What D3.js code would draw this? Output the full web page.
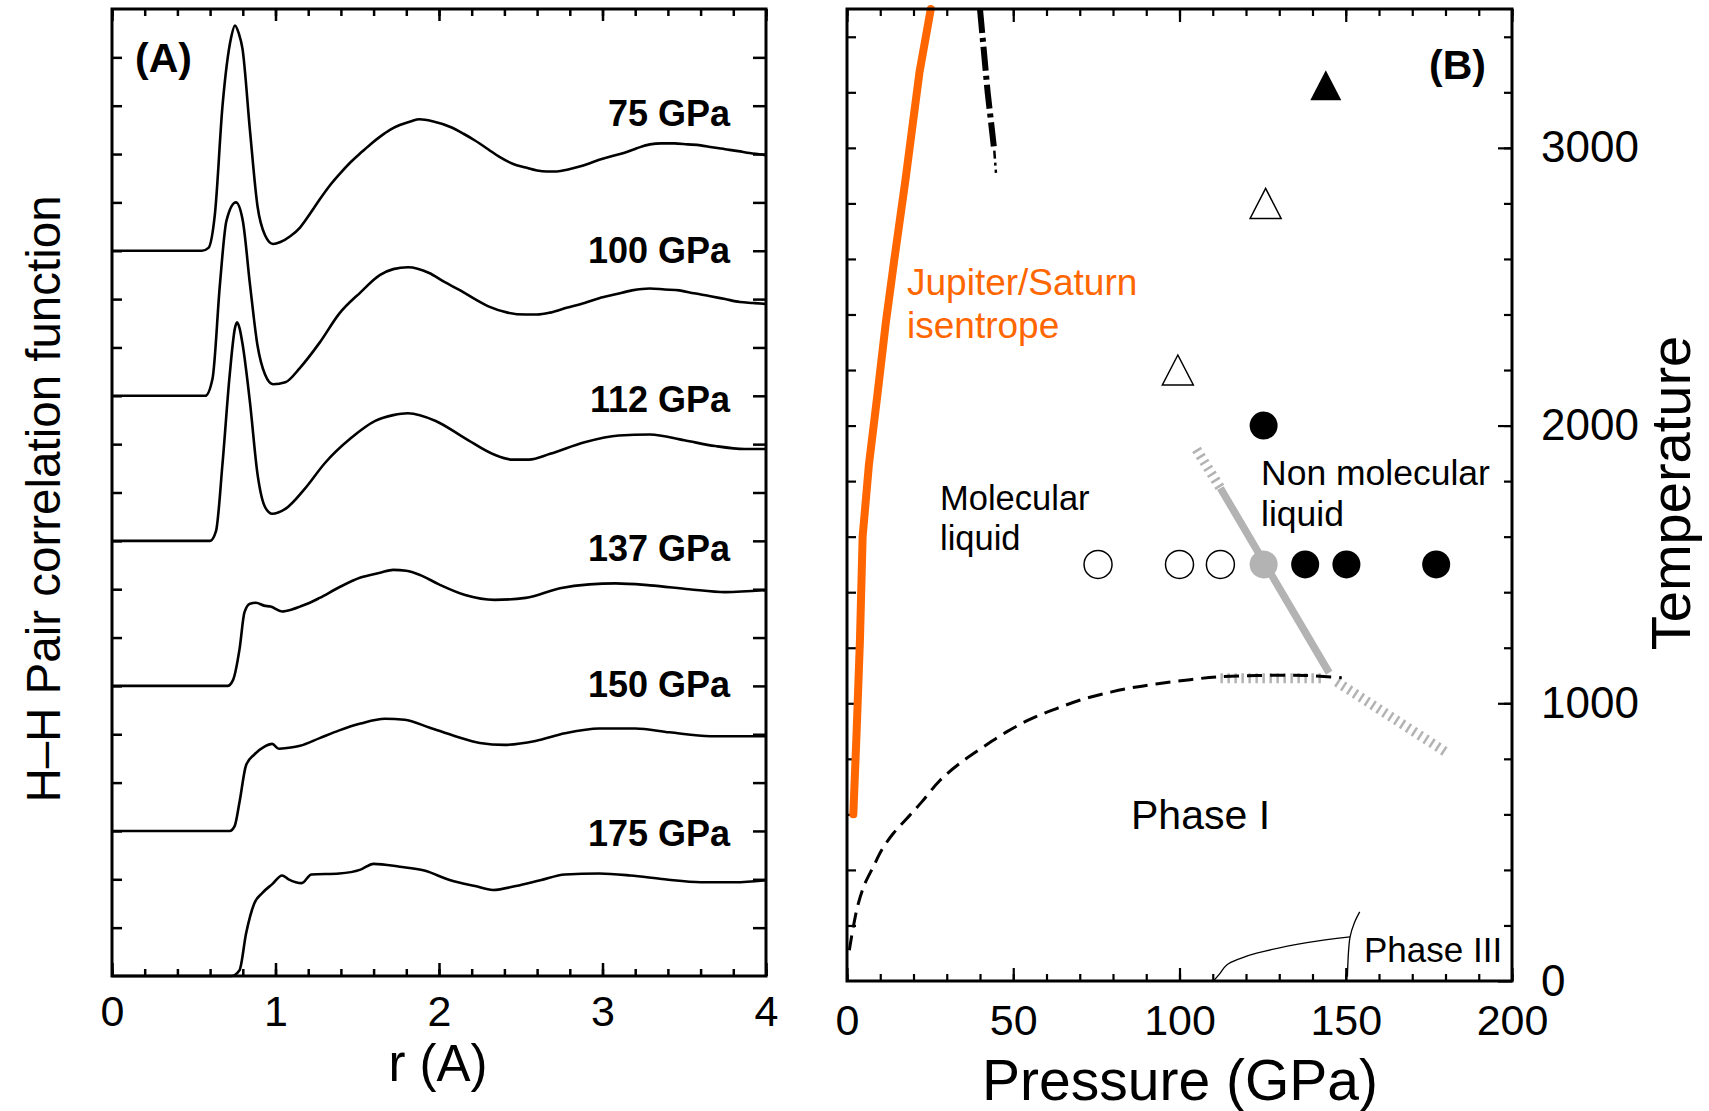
<!DOCTYPE html>
<html>
<head>
<meta charset="utf-8">
<script src="https://cdn.jsdelivr.net/npm/d3@7"></script>
<style>
  html, body { margin: 0; padding: 0; background: #ffffff; }
  svg { display: block; }
  text { font-family: "Liberation Sans", Arial, Helvetica, sans-serif; }
</style>
</head>
<body>
<script>
// ---------------- DATA ----------------
// Panel A: H-H pair correlation function g(r), curves offset vertically
const curveLabels = ["75 GPa", "100 GPa", "112 GPa", "137 GPa", "150 GPa", "175 GPa"];
const curveOffsets = [7.5, 6, 4.5, 3, 1.5, 0];
const g75 = [[0,0],[0.55,0],[0.59,0.03],[0.63,0.39],[0.676,1.5],[0.728,2.2],[0.752,2.33],[0.775,2.25],[0.798,2.09],[0.844,1.24],[0.89,0.46],[0.936,0.16],[0.985,0.07],[1.03,0.09],[1.09,0.15],[1.15,0.24],[1.21,0.38],[1.27,0.53],[1.33,0.67],[1.39,0.79],[1.45,0.9],[1.52,1.01],[1.58,1.1],[1.64,1.18],[1.70,1.25],[1.76,1.30],[1.83,1.34],[1.88,1.36],[1.96,1.34],[2.07,1.28],[2.15,1.21],[2.22,1.14],[2.30,1.05],[2.37,0.97],[2.45,0.9],[2.53,0.86],[2.60,0.83],[2.66,0.82],[2.72,0.82],[2.79,0.84],[2.86,0.87],[2.93,0.91],[2.98,0.94],[3.06,0.98],[3.13,1.01],[3.21,1.06],[3.29,1.1],[3.36,1.11],[3.44,1.11],[3.52,1.10],[3.6,1.09],[3.67,1.07],[3.75,1.05],[3.83,1.03],[3.90,1.01],[4.0,0.99]];
const g100 = [[0,0],[0.57,0],[0.615,0.18],[0.66,1.15],[0.70,1.81],[0.758,2.0],[0.80,1.81],[0.844,1.15],[0.89,0.52],[0.936,0.22],[0.985,0.12],[1.06,0.14],[1.15,0.29],[1.27,0.55],[1.39,0.85],[1.52,1.07],[1.64,1.25],[1.72,1.31],[1.81,1.33],[1.94,1.27],[2.03,1.18],[2.13,1.09],[2.22,1.0],[2.31,0.92],[2.42,0.86],[2.53,0.84],[2.6,0.84],[2.68,0.86],[2.78,0.91],[2.89,0.96],[2.98,1.01],[3.08,1.05],[3.18,1.09],[3.29,1.11],[3.38,1.1],[3.47,1.09],[3.56,1.06],[3.66,1.03],[3.75,1.0],[3.84,0.97],[3.92,0.96],[4.0,0.95]];
const g112 = [[0,0],[0.60,0],[0.636,0.1],[0.676,0.8],[0.72,1.72],[0.752,2.2],[0.765,2.26],[0.78,2.2],[0.798,2.04],[0.844,1.43],[0.89,0.69],[0.936,0.35],[0.98,0.28],[1.06,0.33],[1.18,0.54],[1.30,0.8],[1.46,1.06],[1.61,1.24],[1.72,1.3],[1.81,1.32],[1.98,1.24],[2.16,1.06],[2.34,0.89],[2.45,0.84],[2.55,0.84],[2.68,0.9],[2.89,1.02],[3.10,1.09],[3.29,1.1],[3.50,1.04],[3.69,0.98],[3.87,0.95],[4.0,0.95]];
const g137 = [[0,0],[0.706,0],[0.74,0.06],[0.78,0.38],[0.81,0.76],[0.844,0.85],[0.88,0.86],[0.93,0.83],[0.97,0.82],[1.04,0.77],[1.1,0.79],[1.15,0.82],[1.21,0.86],[1.27,0.91],[1.39,1.02],[1.52,1.12],[1.64,1.17],[1.72,1.2],[1.80,1.19],[1.88,1.15],[2.0,1.05],[2.16,0.94],[2.34,0.89],[2.53,0.91],[2.74,1.01],[2.92,1.05],[3.08,1.06],[3.29,1.04],[3.53,1.0],[3.75,0.97],[4.0,0.99]];
const g150 = [[0,0],[0.72,0],[0.75,0.05],[0.78,0.3],[0.82,0.68],[0.87,0.79],[0.93,0.87],[0.98,0.9],[1.02,0.85],[1.08,0.86],[1.15,0.88],[1.27,0.96],[1.39,1.04],[1.52,1.11],[1.67,1.16],[1.79,1.15],[1.94,1.07],[2.10,0.98],[2.25,0.91],[2.40,0.89],[2.59,0.93],[2.77,1.01],[2.98,1.06],[3.20,1.06],[3.41,1.02],[3.66,0.98],[4.0,0.98]];
const g175 = [[0,0],[0.73,0],[0.78,0.06],[0.82,0.44],[0.87,0.75],[0.92,0.86],[0.98,0.95],[1.04,1.04],[1.08,1.0],[1.16,0.96],[1.22,1.05],[1.39,1.06],[1.52,1.1],[1.60,1.16],[1.76,1.13],[1.91,1.09],[2.07,0.99],[2.22,0.93],[2.33,0.89],[2.47,0.93],[2.62,0.99],[2.77,1.05],[2.98,1.06],[3.17,1.04],[3.38,1.0],[3.60,0.97],[3.81,0.97],[4.0,0.99]];
const curvesA = [g75, g100, g112, g137, g150, g175];
const ticksA_x = [0, 1, 2, 3, 4];

// Panel B: phase diagram (Pressure GPa, Temperature K)
const isentrope = [[1.9,600],[2.9,900],[3.9,1230],[4.7,1600],[6.6,1860],[9.2,2116],[11.7,2373],[14.3,2604],[17.6,2886],[21.8,3272],[25.2,3500]];
const dashDotLine = [[40.0,3500],[42.3,3200],[44.3,2990]];
const dashDotTail = [[44.3,2990],[44.8,2910]];
const meltCurve = [[0.7,111],[1.9,195],[3.4,279],[5.4,351],[7.9,411],[10.4,471],[13.9,531],[18.0,585],[22.5,645],[28,723],[34.5,789],[41,843],[48,897],[55.5,945],[63,981],[71.6,1017],[79.6,1041],[87.1,1059],[95.1,1073],[103.2,1085],[111.2,1095],[123.2,1100],[138.3,1100],[148.8,1092]];
const grayBoundary = [[112.3,1775],[145.0,1110]];
const grayHatchUpper = [[105.1,1914],[112.3,1775]];
const grayHatchFlat = [[112.3,1090],[143.4,1090]];
const grayHatchLower = [[147.3,1077],[180.4,822]];
const phaseIIIcurve = [[110.2,0],[112,25],[114.2,58],[118,80],[123.2,100],[138.3,138],[151.3,159]];
const phaseIIIvert = [[150.5,15],[151.3,159],[152.6,210],[154.2,249]];
const openCircles = [[75.5,1500],[100,1500],[112.3,1500]];
const grayCircles = [[125.3,1500]];
const filledCircles = [[137.8,1500],[150.2,1500],[177.2,1500],[125.3,2000]];
const openTriangles = [[99.5,2200],[125.9,2800]];
const filledTriangles = [[144,3225]];
const ticksB_x = [0, 50, 100, 150, 200];
const ticksB_y = [0, 1000, 2000, 3000];

// ---------------- DRAWING ----------------
const W = 1709, H = 1111;
const svg = d3.select("body").append("svg").attr("width", W).attr("height", H);

const FONT = '"Liberation Sans", Arial, Helvetica, sans-serif';
const orange = "#ff6600";
const gray = "#b3b3b3";

// ---------- Panel A ----------
const xA = d3.scaleLinear().domain([0, 4]).range([112, 766]);
const yA = d3.scaleLinear().domain([0, 10]).range([976, 9]);

const gA = svg.append("g");

function styleAxis(g, w) {
  g.select(".domain").remove();
  g.selectAll(".tick line").attr("stroke", "#000").attr("stroke-width", w);
  g.selectAll(".tick text").attr("fill", "#000").style("font-family", FONT);
}

gA.append("g").attr("transform", `translate(0,${yA(0)})`)
  .call(d3.axisBottom(xA).tickValues(d3.range(0, 4.001, 0.2)).tickSize(-7).tickFormat(""))
  .call(g => styleAxis(g, 2.5));
gA.append("g").attr("transform", `translate(0,${yA(0)})`)
  .call(d3.axisBottom(xA).tickValues(ticksA_x).tickSize(-13).tickPadding(19.5).tickFormat(d3.format("d")))
  .call(g => styleAxis(g, 2.5))
  .call(g => g.selectAll(".tick text").style("font-size", "43px"));
gA.append("g").attr("transform", `translate(0,${yA(10)})`)
  .call(d3.axisTop(xA).tickValues(d3.range(0, 4.001, 0.2)).tickSize(-7).tickFormat(""))
  .call(g => styleAxis(g, 2.5));
gA.append("g").attr("transform", `translate(0,${yA(10)})`)
  .call(d3.axisTop(xA).tickValues(ticksA_x).tickSize(-12).tickFormat(""))
  .call(g => styleAxis(g, 2.5));
gA.append("g").attr("transform", `translate(${xA(0)},0)`)
  .call(d3.axisLeft(yA).tickValues(d3.range(0.5, 9.6, 0.5)).tickSize(-10).tickFormat(""))
  .call(g => styleAxis(g, 2.5));
gA.append("g").attr("transform", `translate(${xA(4)},0)`)
  .call(d3.axisRight(yA).tickValues(d3.range(0.5, 9.6, 0.5)).tickSize(-13).tickFormat(""))
  .call(g => styleAxis(g, 2.5));

const lineA = d3.line().curve(d3.curveMonotoneX);
curvesA.forEach((c, i) => {
  const off = curveOffsets[i];
  gA.append("path")
    .attr("d", lineA.x(d => xA(d[0])).y(d => yA(d[1] + off))(c))
    .attr("fill", "none").attr("stroke", "#000").attr("stroke-width", 2.6)
    .attr("stroke-linejoin", "round");
});

const labelBaselinesA = [126, 263, 412, 561, 697, 846];
curveLabels.forEach((t, i) => {
  gA.append("text").attr("x", 730).attr("y", labelBaselinesA[i])
    .attr("text-anchor", "end").style("font-size", "36px").style("font-weight", "bold")
    .text(t);
});

gA.append("rect").attr("x", xA(0)).attr("y", yA(10))
  .attr("width", xA(4) - xA(0)).attr("height", yA(0) - yA(10))
  .attr("fill", "none").attr("stroke", "#000").attr("stroke-width", 3);

gA.append("text").attr("x", 135).attr("y", 72).style("font-size", "41px").style("font-weight", "bold").text("(A)");

svg.append("text").attr("x", 438).attr("y", 1081).attr("text-anchor", "middle")
  .style("font-size", "51px").text("r (A)");
svg.append("text").attr("transform", "translate(60,499) rotate(-90)").attr("text-anchor", "middle")
  .style("font-size", "47.5px").text("H–H Pair correlation function");

// ---------- Panel B ----------
const xB = d3.scaleLinear().domain([0, 200]).range([847, 1512]);
const yB = d3.scaleLinear().domain([0, 3500]).range([981, 9]);
const gB = svg.append("g");

gB.append("g").attr("transform", `translate(0,${yB(0)})`)
  .call(d3.axisBottom(xB).tickValues(d3.range(0, 201, 10)).tickSize(-7).tickFormat(""))
  .call(g => styleAxis(g, 2.2));
gB.append("g").attr("transform", `translate(0,${yB(0)})`)
  .call(d3.axisBottom(xB).tickValues(ticksB_x).tickSize(-13).tickPadding(23.5).tickFormat(d3.format("d")))
  .call(g => styleAxis(g, 2.2))
  .call(g => g.selectAll(".tick text").style("font-size", "43px"));
gB.append("g").attr("transform", `translate(0,${yB(3500)})`)
  .call(d3.axisTop(xB).tickValues(d3.range(0, 201, 10)).tickSize(-7).tickFormat(""))
  .call(g => styleAxis(g, 2.2));
gB.append("g").attr("transform", `translate(0,${yB(3500)})`)
  .call(d3.axisTop(xB).tickValues(ticksB_x).tickSize(-13).tickFormat(""))
  .call(g => styleAxis(g, 2.2));
gB.append("g").attr("transform", `translate(${xB(0)},0)`)
  .call(d3.axisLeft(yB).tickValues(d3.range(200, 3500, 200)).tickSize(-9).tickFormat(""))
  .call(g => styleAxis(g, 2.2));
gB.append("g").attr("transform", `translate(${xB(200)},0)`)
  .call(d3.axisRight(yB).tickValues(d3.range(200, 3500, 200)).tickSize(-8).tickFormat(""))
  .call(g => styleAxis(g, 2.2));
gB.append("g").attr("transform", `translate(${xB(200)},0)`)
  .call(d3.axisRight(yB).tickValues(ticksB_y).tickSize(-14).tickPadding(29).tickFormat(d3.format("d")))
  .call(g => styleAxis(g, 2.2))
  .call(g => g.selectAll(".tick text").style("font-size", "44px"));

const lineB = d3.line().x(d => xB(d[0])).y(d => yB(d[1]));
const lineBsmooth = d3.line().x(d => xB(d[0])).y(d => yB(d[1])).curve(d3.curveCatmullRom);

[grayHatchUpper, grayHatchFlat, grayHatchLower].forEach(seg => {
  gB.append("path").attr("d", lineB(seg)).attr("fill", "none")
    .attr("stroke", gray).attr("stroke-width", 10).attr("stroke-dasharray", "2.5,4.5");
});
gB.append("path").attr("d", lineB(grayBoundary)).attr("fill", "none")
  .attr("stroke", gray).attr("stroke-width", 7.5);

gB.append("path").attr("d", lineBsmooth(meltCurve)).attr("fill", "none")
  .attr("stroke", "#000").attr("stroke-width", 3).attr("stroke-dasharray", "15,8");

gB.append("path").attr("d", lineB(isentrope)).attr("fill", "none")
  .attr("stroke", orange).attr("stroke-width", 8).attr("stroke-linecap", "round").attr("stroke-linejoin", "round");

gB.append("path").attr("d", lineB(dashDotLine)).attr("fill", "none")
  .attr("stroke", "#000").attr("stroke-width", 6).attr("stroke-dasharray", "24,5,4,5");
gB.append("path").attr("d", lineB(dashDotTail)).attr("fill", "none")
  .attr("stroke", "#000").attr("stroke-width", 2.5).attr("stroke-dasharray", "8,4,3,4");

gB.append("path").attr("d", lineBsmooth(phaseIIIcurve)).attr("fill", "none").attr("stroke", "#000").attr("stroke-width", 1.3);
gB.append("path").attr("d", lineBsmooth(phaseIIIvert)).attr("fill", "none").attr("stroke", "#000").attr("stroke-width", 1.3);

const R = 14;
gB.selectAll(".oc").data(openCircles).join("circle")
  .attr("cx", d => xB(d[0])).attr("cy", d => yB(d[1])).attr("r", R)
  .attr("fill", "#fff").attr("stroke", "#000").attr("stroke-width", 1.5);
gB.selectAll(".gc").data(grayCircles).join("circle")
  .attr("cx", d => xB(d[0])).attr("cy", d => yB(d[1])).attr("r", R)
  .attr("fill", gray).attr("stroke", "none");
gB.selectAll(".fc").data(filledCircles).join("circle")
  .attr("cx", d => xB(d[0])).attr("cy", d => yB(d[1])).attr("r", R)
  .attr("fill", "#000").attr("stroke", "none");
function tri(d) {
  const cx = xB(d[0]), cy = yB(d[1]);
  return `M${cx},${cy - 15}L${cx + 15.5},${cy + 15}L${cx - 15.5},${cy + 15}Z`;
}
gB.selectAll(".ot").data(openTriangles).join("path").attr("d", tri)
  .attr("fill", "#fff").attr("stroke", "#000").attr("stroke-width", 1.5);
gB.selectAll(".ft").data(filledTriangles).join("path").attr("d", tri)
  .attr("fill", "#000");

gB.append("rect").attr("x", xB(0)).attr("y", yB(3500))
  .attr("width", xB(200) - xB(0)).attr("height", yB(0) - yB(3500))
  .attr("fill", "none").attr("stroke", "#000").attr("stroke-width", 3);

gB.append("text").attr("x", 1429).attr("y", 79).style("font-size", "41px").style("font-weight", "bold").text("(B)");
gB.append("text").attr("x", 907).attr("y", 295).style("font-size", "37px").attr("fill", orange).text("Jupiter/Saturn");
gB.append("text").attr("x", 907).attr("y", 338).style("font-size", "37px").attr("fill", orange).text("isentrope");
gB.append("text").attr("x", 940).attr("y", 510).style("font-size", "34.5px").text("Molecular");
gB.append("text").attr("x", 940).attr("y", 550).style("font-size", "34.5px").text("liquid");
gB.append("text").attr("x", 1261).attr("y", 485).style("font-size", "35.5px").text("Non molecular");
gB.append("text").attr("x", 1261).attr("y", 526).style("font-size", "35.5px").text("liquid");
gB.append("text").attr("x", 1131).attr("y", 829).style("font-size", "41px").text("Phase I");
gB.append("text").attr("x", 1364).attr("y", 962).style("font-size", "35px").text("Phase III");

svg.append("text").attr("x", 1180).attr("y", 1100).attr("text-anchor", "middle")
  .style("font-size", "57px").text("Pressure (GPa)");
svg.append("text").attr("transform", "translate(1690,493) rotate(-90)").attr("text-anchor", "middle")
  .style("font-size", "56px").text("Temperature");
</script>
</body>
</html>
